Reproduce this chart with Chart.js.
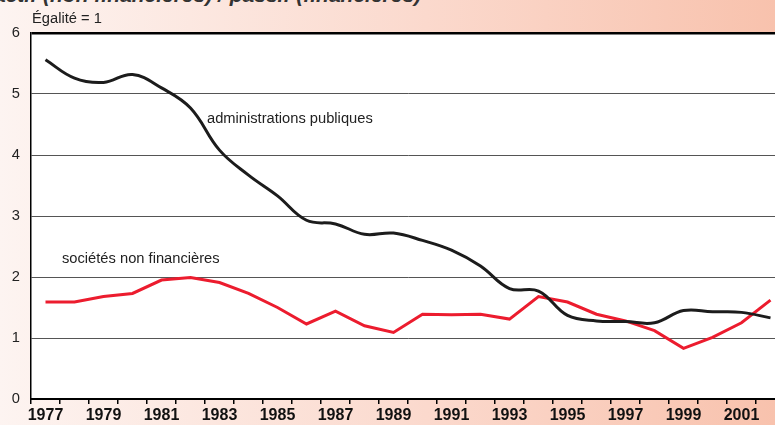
<!DOCTYPE html>
<html>
<head>
<meta charset="utf-8">
<script src="https://cdn.jsdelivr.net/npm/chart.js@4"></script>
<style>
  html, body { margin: 0; padding: 0; width: 775px; height: 425px; overflow: hidden; }
  body { background: linear-gradient(to right, #fdf4f1 0%, #fbd9cd 55%, #f8c2ad 100%); position: relative; }
  #title { position: absolute; left: -6px; top: -17px; font: italic bold 21px "Liberation Sans", Arial, sans-serif; color: #333; white-space: nowrap; }
  #wrap { position: absolute; left: 0; top: 0; width: 800px; height: 425px; }
</style>
</head>
<body>
<div id="title">actif (non financières) / passif (financières)</div>
<div id="wrap"><canvas id="chart" width="800" height="425"></canvas></div>
<script>
// années
const years = [1977, 1978, 1979, 1980, 1981, 1982, 1983, 1984, 1985, 1986, 1987, 1988, 1989,
    1990, 1991, 1992, 1993, 1994, 1995, 1996, 1997, 1998, 1999, 2000, 2001, 2002];

// administrations publiques
const adminValues = [5.56, 5.26, 5.19, 5.32, 5.10, 4.77, 4.08, 3.67, 3.33, 2.93, 2.87, 2.70, 2.72,
    2.60, 2.44, 2.18, 1.81, 1.77, 1.37, 1.28, 1.27, 1.25, 1.45, 1.43, 1.42, 1.33];

// sociétés non financières
const snfValues = [1.59, 1.59, 1.68, 1.73, 1.95, 1.99, 1.91, 1.73, 1.50, 1.23, 1.44, 1.20, 1.09,
    1.39, 1.38, 1.39, 1.31, 1.68, 1.59, 1.39, 1.28, 1.12, 0.83, 1.01, 1.25, 1.62];

const yTicks = [0, 1, 2, 3, 4, 5, 6];

const FONT = '"Liberation Sans", Arial, sans-serif';

/**
 * white plot background + free text labels
 */
const decor = {
    id: 'decor',
    beforeDraw(chart) {
        const ctx = chart.ctx;
        const a = chart.chartArea;
        ctx.save();
        ctx.fillStyle = '#fff';
        ctx.fillRect(a.left, a.top, a.right - a.left, a.bottom - a.top);
        ctx.restore();
    },
    afterDraw(chart) {
        const ctx = chart.ctx;
        ctx.save();
        ctx.fillStyle = '#222';
        ctx.font = '14.7px ' + FONT;
        ctx.textBaseline = 'alphabetic';
        ctx.fillText('Égalité = 1', 32, 23);
        ctx.fillText('administrations publiques', 207, 123);
        ctx.fillText('sociétés non financières', 62, 263);
        ctx.restore();
    }
};

new Chart(document.getElementById('chart'), {
    type: 'line',
    data: {
        labels: years,
        datasets: [{
            label: 'administrations publiques',
            data: adminValues,
            borderColor: '#1c1c1c',
            borderWidth: 3,
            tension: 0.4,
            pointRadius: 0
        }, {
            label: 'sociétés non financières',
            data: snfValues,
            borderColor: '#ec1c2e',
            borderWidth: 3,
            tension: 0,
            pointRadius: 0
        }]
    },
    options: {
        responsive: false,
        animation: false,
        layout: { padding: { top: 33, left: 0, right: 15, bottom: 0 } },
        plugins: { legend: { display: false }, tooltip: { enabled: false } },
        scales: {
            x: {
                type: 'category',
                offset: true,
                afterFit: (s) => { s.height = 26; },
                grid: {
                    offset: true,
                    drawOnChartArea: false,
                    drawTicks: true,
                    tickLength: 5,
                    color: '#000',
                    lineWidth: 1.5
                },
                border: { display: true, color: '#000', width: 2 },
                ticks: {
                    autoSkip: false,
                    maxRotation: 0,
                    padding: 2,
                    color: '#111',
                    font: { family: FONT, size: 16, weight: 'bold' },
                    callback: function (value, index) {
                        const y = years[index];
                        return y % 2 === 1 ? String(y) : '';
                    }
                }
            },
            y: {
                min: 0,
                max: 6,
                afterFit: (s) => { s.width = 31; },
                afterBuildTicks: (s) => { s.ticks = yTicks.map(v => ({ value: v })); },
                grid: {
                    drawTicks: false,
                    tickLength: 0,
                    color: (c) => c.tick && c.tick.value === 6 ? '#000' : '#555',
                    lineWidth: (c) => c.tick && c.tick.value === 6 ? 2.5 : 1
                },
                border: { display: true, color: '#000', width: 1.5 },
                ticks: {
                    padding: 11,
                    color: '#222',
                    font: { family: FONT, size: 14.7 }
                }
            }
        }
    },
    plugins: [decor]
});
</script>
</body>
</html>
